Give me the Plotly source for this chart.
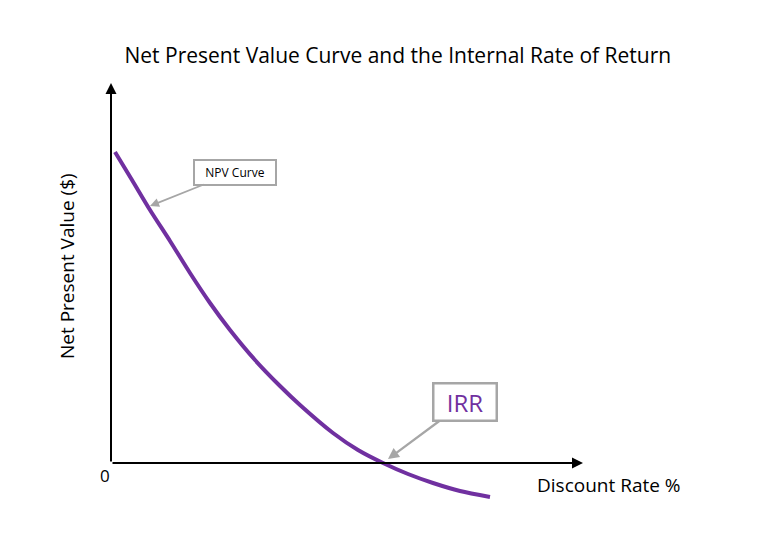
import plotly.graph_objects as go

# Data (discount rate units, NPV units)
discount_rate = [0.16, 0.84, 1.56, 2.36, 3.16, 3.96, 4.76, 5.76, 6.76, 7.56, 8.88, 9.88, 10.88,
                 11.88, 12.88, 13.96, 15.16]
npv = [15.55, 14.15, 12.65, 11.1, 9.5, 8.0, 6.65, 5.15, 3.85, 2.9, 1.5, 0.65, 0.0,
       -0.55, -1.0, -1.4, -1.7]
irr = 10.88
x_axis_end = 18.88
y_axis_end = 19.0

fig = go.Figure()
fig.add_trace(go.Scatter(
    x=discount_rate, y=npv, mode="lines",
    line=dict(color="#7030A0", width=4, shape="spline", smoothing=0.8),
    hoverinfo="skip", showlegend=False,
))

ann = []
# x axis arrow
ann.append(dict(x=x_axis_end, y=0, ax=0, ay=0, xref="x", yref="y", axref="x", ayref="y",
                showarrow=True, arrowhead=2, arrowsize=1.1, arrowwidth=2, arrowcolor="black", text=""))
# y axis arrow
ann.append(dict(x=0, y=y_axis_end, ax=0, ay=0, xref="x", yref="y", axref="x", ayref="y",
                showarrow=True, arrowhead=2, arrowsize=1.1, arrowwidth=2, arrowcolor="black", text=""))
# NPV Curve label
ann.append(dict(x=1.56, y=12.85, xref="x", yref="y", ax=85, ay=-34,
                text="NPV Curve", showarrow=True, arrowhead=2, arrowsize=1, arrowwidth=1.8,
                arrowcolor="#A6A6A6", bordercolor="#A6A6A6", borderwidth=2, borderpad=2,
                width=76, height=19,
                bgcolor="white", font=dict(family="Open Sans", size=12, color="black")))
# IRR label
ann.append(dict(x=irr + 0.2, y=0.2, xref="x", yref="y", ax=77, ay=-57,
                text="IRR", showarrow=True, arrowhead=2, arrowsize=1, arrowwidth=2.2,
                arrowcolor="#A6A6A6", bordercolor="#A6A6A6", borderwidth=2.5, borderpad=2,
                width=57, height=31,
                bgcolor="white", font=dict(family="Open Sans", size=24, color="#7030A0")))
# zero label
ann.append(dict(x=0, y=0, xref="x", yref="y", xshift=-6, yshift=-12, text="0", showarrow=False,
                font=dict(family="Open Sans", size=17, color="black")))
# axis titles
ann.append(dict(x=1.018, y=0.057, xref="paper", yref="paper", xanchor="center", yanchor="middle",
                text="Discount Rate %",
                showarrow=False, font=dict(family="Open Sans", size=19, color="black")))
ann.append(dict(x=-0.066, y=0.5545, xref="paper", yref="paper", xanchor="center", yanchor="middle",
                text="Net Present Value ($)",
                textangle=-90, showarrow=False, font=dict(family="Open Sans", size=19, color="black")))
fig.update_layout(
    annotations=ann,
    width=768, height=559,
    margin=dict(l=100, r=168, t=70, b=49),
    paper_bgcolor="white", plot_bgcolor="white",
    title=dict(text="Net Present Value Curve and the Internal Rate of Return",
               x=0.518, xanchor="center", y=0.901, yanchor="middle",
               font=dict(family="Open Sans", size=21, color="black")),
    xaxis=dict(visible=False, range=[-0.44, 19.56]),
    yaxis=dict(visible=False, range=[-2.35, 19.65]),
)
fig.write_html("out.html")
